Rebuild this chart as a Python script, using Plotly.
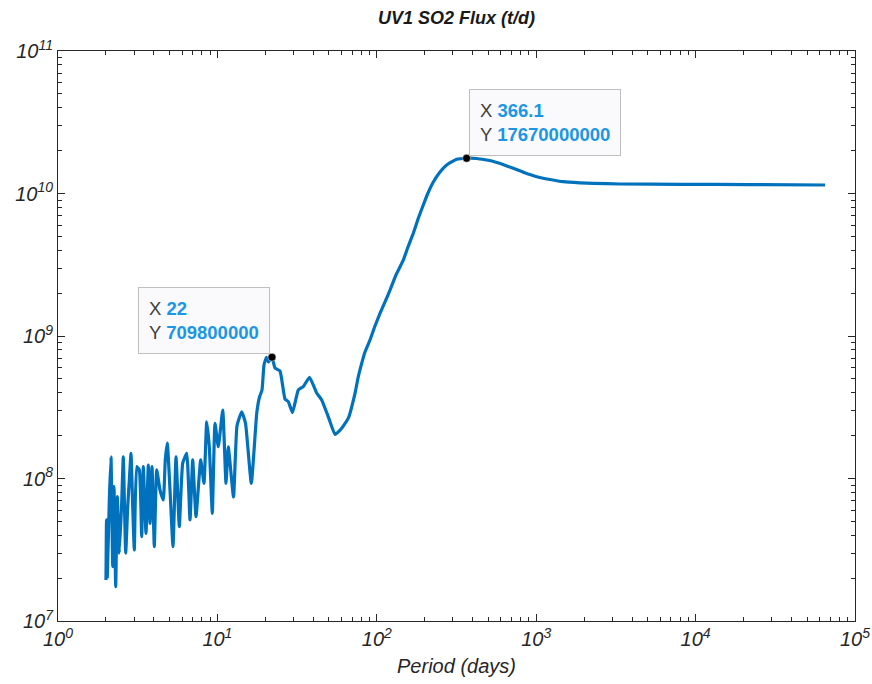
import plotly.graph_objects as go
import math

period_days = [
    2.00, 2.015, 2.038, 2.098, 2.150, 2.204, 2.246, 2.301, 2.355, 2.424,
    2.509, 2.568, 2.659, 2.737, 2.802, 2.871, 2.942, 3.011, 3.117, 3.236,
    3.350, 3.428, 3.565, 3.686, 3.778, 3.889, 4.019, 4.161, 4.364, 4.577,
    4.711, 4.850, 5.043, 5.266, 5.499, 5.768, 6.058, 6.419, 6.732, 6.998,
    7.340, 7.857, 8.240, 8.568, 8.896, 9.290, 9.659, 10.13, 10.80, 11.32,
    11.70, 12.62, 13.27, 14.21, 15.01, 16.32, 17.65, 18.37, 19.05, 19.60,
    20.32, 20.92, 22.0, 22.98, 24.70, 26.56, 27.85, 29.59, 32.17, 34.58,
    37.82, 41.98, 45.11, 49.63, 54.67, 60.24, 66.27, 73.00, 76.2, 80.40,
    84.3, 90.64, 97.4, 104.7, 112.6, 121.0, 131.9, 146.6, 156.9, 169.4,
    181.4, 195.7, 209.5, 226.2, 249.2, 274.5, 317.1, 366.1, 423.4, 477.3,
    545.9, 619.0, 718.5, 838.5, 1007, 1221, 1479, 1883, 2282, 3356,
    7980, 21950, 64830,
]
flux_td = [
    1.94e7, 5.12e7, 2.05e7, 7.07e7, 1.42e8, 2.41e7, 8.76e7, 1.74e7, 7.45e7, 2.99e7,
    6.70e7, 1.42e8, 2.99e7, 6.34e7, 9.76e7, 1.50e8, 6.34e7, 3.15e7, 1.21e8, 1.15e8,
    3.91e7, 1.21e8, 4.12e7, 1.24e8, 4.85e7, 1.21e8, 3.32e7, 1.15e8, 8.30e7, 7.07e7,
    1.35e8, 1.77e8, 8.30e7, 3.32e7, 1.42e8, 4.59e7, 1.28e8, 1.50e8, 5.12e7, 1.35e8,
    5.40e7, 1.35e8, 9.25e7, 2.50e8, 1.67e8, 5.70e7, 2.44e8, 1.67e8, 3.02e8, 9.25e7,
    1.67e8, 7.42e7, 2.34e8, 2.94e8, 2.44e8, 9.25e7, 2.87e8, 3.73e8, 4.18e8, 6.26e8,
    7.09e8, 6.57e8, 7.098e8, 5.96e8, 5.68e8, 3.61e8, 3.46e8, 2.90e8, 4.18e8, 4.41e8,
    5.13e8, 3.98e8, 3.56e8, 2.71e8, 2.04e8, 2.25e8, 2.65e8, 3.96e8, 5.07e8, 6.43e8,
    7.72e8, 9.37e8, 1.175e9, 1.44e9, 1.733e9, 2.10e9, 2.68e9, 3.41e9, 4.21e9, 5.26e9,
    6.62e9, 8.30e9, 1.008e10, 1.204e10, 1.415e10, 1.585e10, 1.738e10, 1.767e10, 1.761e10, 1.724e10,
    1.672e10, 1.598e10, 1.502e10, 1.404e10, 1.312e10, 1.254e10, 1.210e10, 1.189e10, 1.179e10, 1.166e10,
    1.160e10, 1.155e10, 1.147e10,
]

tip_x = [22, 366.1]
tip_y = [709800000, 17670000000]
tip_labels_x = ["22", "366.1"]
tip_labels_y = ["709800000", "17670000000"]

x_tickvals = [1, 10, 100, 1000, 10000, 100000]
x_ticktext = ["10<sup>0</sup>", "10<sup>1</sup>", "10<sup>2</sup>",
              "10<sup>3</sup>", "10<sup>4</sup>", "10<sup>5</sup>"]
y_tickvals = [1e7, 1e8, 1e9, 1e10, 1e11]
y_ticktext = ["10<sup>7</sup>", "10<sup>8</sup>", "10<sup>9</sup>",
              "10<sup>10</sup>", "10<sup>11</sup>"]

LINE = "#0072BD"
TIPBLUE = "#1A96E6"
AXC = "#262626"
FONT = "Liberation Sans"


def minor_vals(e0, e1):
    return [m * 10 ** e for e in range(e0, e1) for m in range(2, 10)]


fig = go.Figure()
fig.add_trace(go.Scatter(x=period_days, y=flux_td, mode="lines",
                         line=dict(color=LINE, width=3.2, shape="spline", smoothing=0.4),
                         hoverinfo="skip"))
fig.add_trace(go.Scatter(x=tip_x, y=tip_y, mode="markers",
                         marker=dict(color="black", size=8,
                                     line=dict(color="white", width=0.5)),
                         hoverinfo="skip"))

anchors = [("right", -2, 3), ("left", 2, 2)]
for i in range(2):
    xa, xs, ys = anchors[i]
    txt = (f"X <span style='color:{TIPBLUE}'><b>{tip_labels_x[i]}</b></span><br>"
           f"Y <span style='color:{TIPBLUE}'><b>{tip_labels_y[i]}</b></span>")
    fig.add_annotation(x=math.log10(tip_x[i]), y=math.log10(tip_y[i]),
                       xref="x", yref="y", text=txt, showarrow=False,
                       xanchor=xa, yanchor="bottom", xshift=xs, yshift=ys,
                       align="left", font=dict(family=FONT, size=18.5, color="#404040"),
                       bgcolor="rgba(250,250,252,0.95)", bordercolor="#BFBFBF",
                       borderwidth=1, borderpad=10)

axis_common = dict(
    type="log", showgrid=False, zeroline=False, automargin=False,
    showline=True, linecolor=AXC, linewidth=1, mirror="allticks",
    ticks="inside", ticklen=7, tickcolor=AXC, tickwidth=1,
    tickmode="array",
    tickfont=dict(family=FONT, size=20, color=AXC, style="italic"),
)

fig.update_layout(
    width=872, height=684,
    margin=dict(l=58, r=17, t=51, b=63),
    paper_bgcolor="white", plot_bgcolor="white",
    showlegend=False,
    title=dict(text="<b><i>UV1 SO2 Flux (t/d)</i></b>", x=0.5, xref="paper",
               y=1 - 18 / 684, yref="container", yanchor="middle",
               font=dict(family=FONT, size=18, color="#1a1a1a")),
    xaxis=dict(range=[0, 5], tickvals=x_tickvals, ticktext=x_ticktext,
               minor=dict(tickmode="array", tickvals=minor_vals(0, 5), ticks="inside",
                          ticklen=4, tickcolor=AXC, showgrid=False),
               title=dict(text="Period (days)", standoff=9,
                          font=dict(family=FONT, size=20, color=AXC, style="italic")),
               **axis_common),
    yaxis=dict(range=[7, 11], tickvals=y_tickvals, ticktext=y_ticktext,
               minor=dict(tickmode="array", tickvals=minor_vals(7, 11), ticks="inside",
                          ticklen=4, tickcolor=AXC, showgrid=False),
               **axis_common),
)

fig.write_html("out.html")
